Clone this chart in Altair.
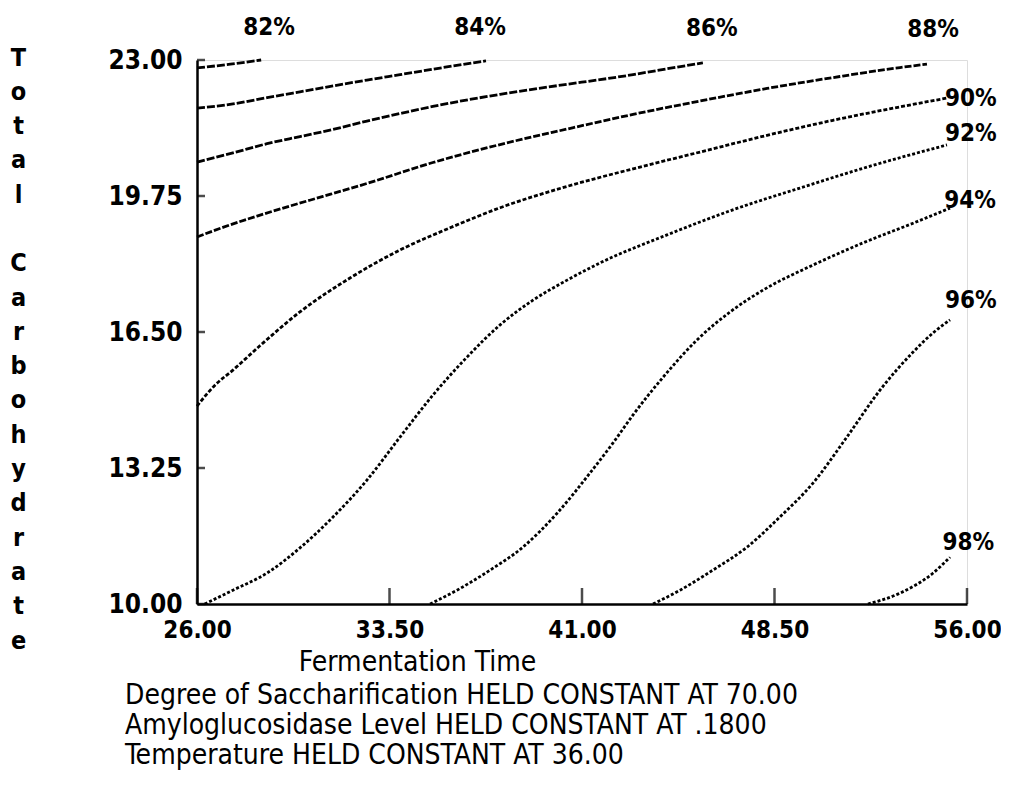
import altair as alt
import pandas as pd

FONT = "DejaVu Sans Condensed, DejaVu Sans"

# ---- contour data (Fermentation Time, Total Carbohydrate) ----
levels = ["82%", "84%", "86%", "88%", "90%", "92%", "94%", "96%", "98%"]

c82_x = [26.0, 27.3, 28.5]
c82_y = [22.81, 22.90, 23.0]

c84_x = [26.0, 27.4, 28.73, 30.01, 31.3, 32.62, 33.91, 35.19, 37.26]
c84_y = [21.85, 21.95, 22.10, 22.24, 22.38, 22.52, 22.65, 22.78, 22.98]

c86_x = [26.0, 27.4, 28.73, 30.01, 31.3, 32.62, 33.91, 35.19, 37.81, 40.42, 41.7, 42.99, 44.31, 45.71]
c86_y = [20.56, 20.78, 21.0, 21.17, 21.34, 21.54, 21.72, 21.89, 22.18, 22.42, 22.53, 22.65, 22.79, 22.93]

c88_x = [26.0, 27.01, 28.34, 29.62, 30.91, 32.62, 35.19, 37.81, 40.42, 42.99, 45.6, 48.21, 50.78, 53.39, 54.44]
c88_y = [18.77, 19.0, 19.27, 19.51, 19.74, 20.05, 20.55, 20.98, 21.35, 21.70, 22.02, 22.32, 22.58, 22.82, 22.9]

c90_x = [26.0, 26.7, 27.4, 28.45, 30.01, 31.96, 33.91, 35.86, 37.81, 40.42, 42.99, 45.6, 48.21, 50.78, 53.39, 55.22]
c90_y = [14.73, 15.23, 15.59, 16.17, 16.98, 17.79, 18.46, 18.99, 19.47, 19.98, 20.40, 20.80, 21.20, 21.56, 21.88, 22.09]

c92_x = [26.3, 27.4, 28.73, 30.01, 31.3, 32.62, 33.91, 35.19, 36.52, 37.81, 39.09, 40.42, 41.7, 44.31, 46.88, 49.49, 52.1, 55.22]
c92_y = [10.0, 10.33, 10.74, 11.34, 12.08, 12.96, 13.99, 14.99, 15.9, 16.67, 17.26, 17.74, 18.15, 18.82, 19.42, 19.94, 20.44, 20.97]

c94_x = [35.08, 36.13, 37.42, 38.7, 40.03, 41.31, 42.21, 42.99, 44.16, 45.48, 46.77, 48.05, 50.0, 51.95, 53.9, 55.34]
c94_y = [10.0, 10.33, 10.81, 11.36, 12.17, 13.13, 13.85, 14.52, 15.42, 16.31, 16.98, 17.5, 18.1, 18.63, 19.1, 19.46]

c96_x = [43.77, 44.82, 46.1, 47.43, 48.71, 50.0, 51.32, 52.61, 53.9, 54.68, 55.34]
c96_y = [10.0, 10.33, 10.81, 11.36, 12.08, 12.89, 13.99, 15.11, 16.02, 16.48, 16.79]

c98_x = [52.14, 53.39, 54.68, 55.34]
c98_y = [10.0, 10.26, 10.74, 11.12]

series_x = [c82_x, c84_x, c86_x, c88_x, c90_x, c92_x, c94_x, c96_x, c98_x]
series_y = [c82_y, c84_y, c86_y, c88_y, c90_y, c92_y, c94_y, c96_y, c98_y]

# ---- contour labels ----
label_text = ["82%", "84%", "86%", "88%", "90%", "92%", "94%", "96%", "98%"]
label_x = [28.81, 37.03, 46.06, 54.68, 56.15, 56.15, 56.12, 56.15, 56.05]
label_y = [23.76, 23.76, 23.74, 23.72, 22.07, 21.23, 19.63, 17.24, 11.46]

# ---- axes ----
x_ticks = [26.0, 33.5, 41.0, 48.5, 56.0]
y_ticks = [10.0, 13.25, 16.5, 19.75, 23.0]
# blank line between the words is a braille blank so that it is kept as a line
y_title_letters = ["T", "o", "t", "a", "l", "\u2800", "C", "a", "r", "b", "o", "h", "y", "d", "r", "a", "t", "e"]
x_title = "Fermentation Time"
footer_lines = [
    "Degree of Saccharification HELD CONSTANT AT 70.00",
    "Amyloglucosidase Level HELD CONSTANT AT .1800",
    "Temperature HELD CONSTANT AT 36.00",
]

# line style per contour (upper contours drawn as long dashes, steep ones dotted)
dash_styles = [[8, 2], [8, 2], [8, 2], [7, 2], [4, 2], [3, 2], [3, 2], [3, 2], [3, 2]]

rows = []
for lev, xs, ys in zip(levels, series_x, series_y):
    for i, (xv, yv) in enumerate(zip(xs, ys)):
        rows.append({"level": lev, "x": xv, "y": yv, "i": i})
df = pd.DataFrame(rows)
lab_df = pd.DataFrame({"text": label_text, "x": label_x, "y": label_y})
xt_df = pd.DataFrame({"v": x_ticks})
yt_df = pd.DataFrame({"v": y_ticks})

xscale = alt.Scale(domain=[26, 56], nice=False, zero=False)
yscale = alt.Scale(domain=[10, 23], nice=False, zero=False)

x_axis = alt.Axis(
    values=x_ticks, format=".2f", grid=False, ticks=False, tickSize=0,
    domainColor="black", domainWidth=2.5,
    labelFont=FONT, labelFontSize=24, labelFontWeight="bold", labelColor="black",
    labelPadding=14, labelFlush=False, labelOverlap=False,
    title=x_title, titleFont=FONT, titleFontSize=28, titleFontWeight="normal",
    titleColor="black", titleX=220, titleY=58, titleAlign="center", titleBaseline="middle",
)
y_axis = alt.Axis(
    values=y_ticks, format=".2f", grid=False, ticks=False, tickSize=0,
    domainColor="black", domainWidth=2.5,
    labelFont=FONT, labelFontSize=26, labelFontWeight="bold", labelColor="black",
    labelPadding=15, labelFlush=False, labelOverlap=False,
    title=y_title_letters, titleFont=FONT, titleFontSize=25, titleFontWeight="bold",
    titleColor="black", titleAngle=0, titleX=-179, titleY=-3, titleAlign="center",
    titleBaseline="middle", titleLineHeight=34.3,
)

lines = alt.Chart(df).mark_line(
    color="black", strokeWidth=2.8, interpolate="monotone"
).encode(
    x=alt.X("x:Q", scale=xscale, axis=x_axis),
    y=alt.Y("y:Q", scale=yscale, axis=y_axis),
    strokeDash=alt.StrokeDash("level:N", scale=alt.Scale(domain=levels, range=dash_styles), legend=None),
    detail="level:N",
    order="i:Q",
)

labels = alt.Chart(lab_df).mark_text(
    font=FONT, fontSize=24, fontWeight="bold", color="black",
    align="center", baseline="middle",
).encode(x="x:Q", y="y:Q", text="text:N")

yticks = alt.Chart(yt_df).mark_tick(
    orient="horizontal", size=8, thickness=2.5, color="black", xOffset=4
).encode(y="v:Q", x=alt.datum(26))

xticks = alt.Chart(xt_df).mark_tick(
    orient="vertical", size=16, thickness=2.5, color="black", yOffset=-8
).encode(x="v:Q", y=alt.datum(10))

chart = alt.layer(lines, yticks, xticks, labels).properties(
    width=770, height=544,
    autosize=alt.AutoSizeParams(type="none"),
    padding={"left": 189, "top": 52, "right": 34, "bottom": 178},
    title=alt.TitleParams(
        text=footer_lines, orient="bottom", anchor="start", frame="group",
        font=FONT, fontSize=28, fontWeight="normal", color="black",
        lineHeight=30, dx=-72, offset=6,
    ),
).configure_view(stroke=None).configure(background="white")

chart.save("out.html", embed_options={"renderer": "svg", "actions": False})
